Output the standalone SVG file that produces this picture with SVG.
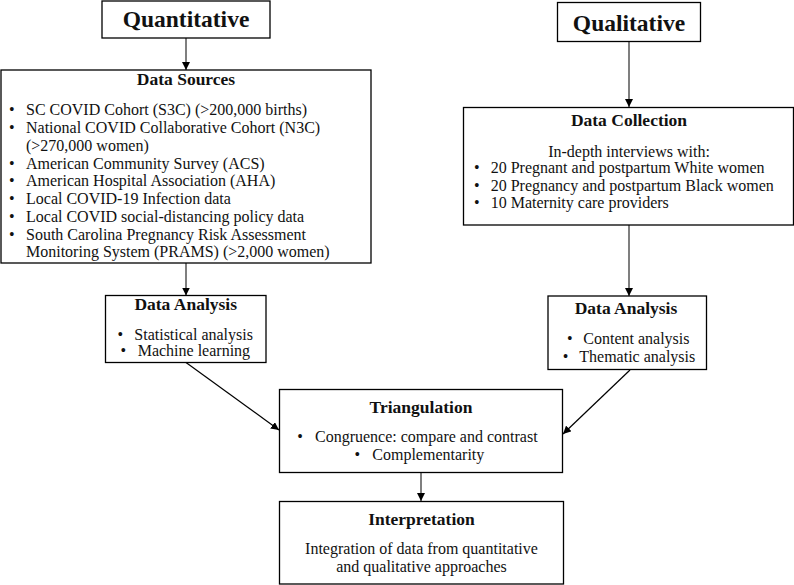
<svg xmlns="http://www.w3.org/2000/svg" width="794" height="585" viewBox="0 0 794 585">
<defs>
<style>
text{font-family:"Liberation Serif","Times New Roman",serif;fill:#111;font-size:16px}
.h{font-weight:bold;font-size:17.5px;text-anchor:middle}
.big{font-weight:bold;font-size:23.5px;text-anchor:middle}
.c{text-anchor:middle}
.box{fill:#fff;stroke:#000;stroke-width:1.3}
.v{stroke:#7f7f7f;stroke-width:2;fill:none}
.d{stroke:#000;stroke-width:1.2;fill:none}
</style>
<marker id="ah" markerUnits="userSpaceOnUse" markerWidth="8" markerHeight="8" refX="8" refY="4" orient="auto">
<path d="M0,0 L8,4 L0,8 z" fill="#000"/>
</marker>
</defs>
<rect width="794" height="585" fill="#fff"/>

<g id="connectors">
<line class="v" x1="186" y1="38" x2="186" y2="70" marker-end="url(#ah)"/>
<line class="v" x1="629" y1="41.5" x2="629" y2="107" marker-end="url(#ah)"/>
<line class="v" x1="186" y1="263" x2="186" y2="295.5" marker-end="url(#ah)"/>
<line class="v" x1="629" y1="225" x2="629" y2="296" marker-end="url(#ah)"/>
<line class="d" x1="186" y1="362.5" x2="279" y2="430" marker-end="url(#ah)"/>
<line class="d" x1="630" y1="370" x2="563" y2="434" marker-end="url(#ah)"/>
<line class="v" x1="421" y1="472.5" x2="421" y2="501" marker-end="url(#ah)"/>
</g>

<g id="quantitative">
<rect class="box" x="102" y="1" width="168" height="37"/>
<text class="big" x="186" y="27">Quantitative</text>
</g>

<g id="qualitative">
<rect class="box" x="557.5" y="2.5" width="143" height="39"/>
<text class="big" x="629" y="31">Qualitative</text>
</g>

<g id="data-sources">
<rect class="box" x="1" y="70" width="370" height="193"/>
<text class="h" x="186" y="85.3">Data Sources</text>
<text x="9" y="115">•</text><text x="26" y="115">SC COVID Cohort (S3C) (&gt;200,000 births)</text>
<text x="9" y="133">•</text><text x="26" y="133">National COVID Collaborative Cohort (N3C)</text>
<text x="26" y="150.7">(&gt;270,000 women)</text>
<text x="9" y="168.5">•</text><text x="26" y="168.5">American Community Survey (ACS)</text>
<text x="9" y="186.2">•</text><text x="26" y="186.2">American Hospital Association (AHA)</text>
<text x="9" y="204">•</text><text x="26" y="204">Local COVID-19 Infection data</text>
<text x="9" y="221.7">•</text><text x="26" y="221.7">Local COVID social-distancing policy data</text>
<text x="9" y="239.5">•</text><text x="26" y="239.5">South Carolina Pregnancy Risk Assessment</text>
<text x="26" y="257.2">Monitoring System (PRAMS) (&gt;2,000 women)</text>
</g>

<g id="data-collection">
<rect class="box" x="463.5" y="107.5" width="330" height="117.5"/>
<text class="h" x="629" y="126">Data Collection</text>
<text class="c" x="629" y="156.5">In-depth interviews with:</text>
<text x="474" y="173.3">•</text><text x="490.7" y="173.3">20 Pregnant and postpartum White women</text>
<text x="474" y="190.7">•</text><text x="490.7" y="190.7">20 Pregnancy and postpartum Black women</text>
<text x="474" y="208.3">•</text><text x="490.7" y="208.3">10 Maternity care providers</text>
</g>

<g id="data-analysis-quant">
<rect class="box" x="105.5" y="295.5" width="160.5" height="67"/>
<text class="h" x="185.7" y="310">Data Analysis</text>
<text x="117.5" y="340">•</text><text x="134.3" y="340">Statistical analysis</text>
<text x="120.5" y="355.5">•</text><text x="137.7" y="355.5">Machine learning</text>
</g>

<g id="data-analysis-qual">
<rect class="box" x="548" y="296" width="158.5" height="73.5"/>
<text class="h" x="626" y="314.3">Data Analysis</text>
<text x="567" y="344.3">•</text><text x="583.3" y="344.3">Content analysis</text>
<text x="562.8" y="361.7">•</text><text x="579.3" y="361.7">Thematic analysis</text>
</g>

<g id="triangulation">
<rect class="box" x="279.5" y="389.5" width="283" height="83"/>
<text class="h" x="421" y="412.5">Triangulation</text>
<text x="297.2" y="442">•</text><text x="315" y="442">Congruence: compare and contrast</text>
<text x="354.5" y="459.5">•</text><text x="372.3" y="459.5">Complementarity</text>
</g>

<g id="interpretation">
<rect class="box" x="279.5" y="501.5" width="284" height="82.5"/>
<text class="h" x="421.5" y="525">Interpretation</text>
<text class="c" x="421.5" y="554">Integration of data from quantitative</text>
<text class="c" x="421.5" y="571.7">and qualitative approaches</text>
</g>
</svg>
